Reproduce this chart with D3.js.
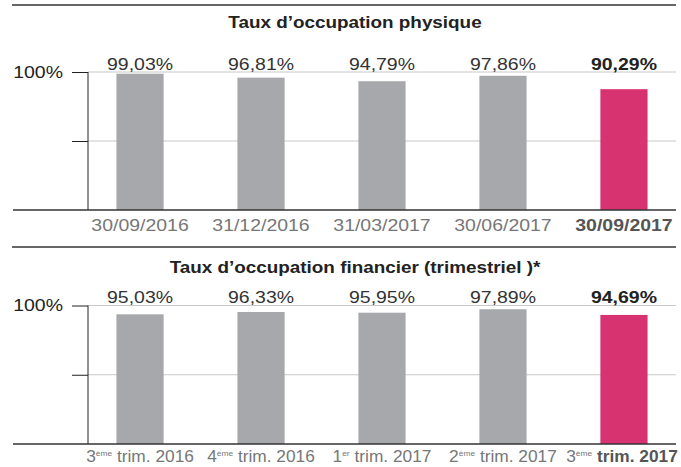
<!DOCTYPE html>
<html>
<head>
<meta charset="utf-8">
<script src="https://cdn.jsdelivr.net/npm/d3@7"></script>
<style>
	body { margin:0; background:#fff; }
	svg text { font-family:"Liberation Sans", Arial, Helvetica, sans-serif; }
</style>
</head>
<body>
<svg id="chart" width="681" height="467"></svg>
<script>
// data
var physTitle = 'Taux d\u2019occupation physique';
var physDates = ['30/09/2016', '31/12/2016', '31/03/2017', '30/06/2017', '30/09/2017'];
var physValues = [99.03, 96.81, 94.79, 97.86, 90.29];

var finTitle = 'Taux d\u2019occupation financier (trimestriel )*';
var finNum = ['3', '4', '1', '2', '3'];
var finSup = ['\u00e8me', '\u00e8me', 'er', '\u00e8me', '\u00e8me'];
var finRest = ['trim. 2016', 'trim. 2016', 'trim. 2017', 'trim. 2017', 'trim. 2017'];
var finValues = [95.03, 96.33, 95.95, 97.89, 94.69];

var yDomain = [22, 100];
var yTicks = [100, 61];
var yTickLabels = ['100%', ''];

var grey = '#a7a8ab', pink = '#d83371';
var fs = 16.5, wide = 1.18;   // the source type is set rather wide
var fr = d3.formatLocale({decimal:',', thousands:' ', grouping:[3], currency:['', '\u20ac']});
var fmt = fr.format('.2f');

var svg = d3.select('#chart');

// move x/y into a transform so the glyphs can be widened around their anchor
function stretch(sel, k) {
	k = k || wide;
	sel.each(function() {
		var t = d3.select(this);
		var x = +t.attr('x') || 0, y = +t.attr('y') || 0;
		t.attr('x', 0).attr('y', 0)
			.attr('transform', 'translate(' + x + ',' + y + ') scale(' + k + ',1)');
	});
}

function panel(opts) {
	var g = svg.append('g');
	var n = opts.values.length;
	var idx = d3.range(n);
	var x = d3.scaleBand().domain(idx).range([88, 676]).paddingInner(0.61).paddingOuter(0.235);
	var y = d3.scaleLinear().domain(yDomain).range([opts.bottom, opts.top]);

	// top rule + title
	g.append('line').attr('x1', 12).attr('x2', 676).attr('y1', opts.rule).attr('y2', opts.rule)
		.attr('stroke', '#333').attr('stroke-width', 1.5);
	g.append('text').attr('x', 355).attr('y', opts.titleY).attr('text-anchor', 'middle')
		.attr('font-size', 16).attr('font-weight', 'bold').attr('fill', '#222')
		.text(opts.title).call(stretch);

	// gridlines
	g.selectAll('line.grid').data(yTicks).enter().append('line').attr('class', 'grid')
		.attr('x1', 88).attr('x2', 676)
		.attr('y1', function(d) { return y(d); }).attr('y2', function(d) { return y(d); })
		.attr('stroke', '#c8c8c8').attr('stroke-width', 1);

	// bars
	g.selectAll('rect').data(opts.values).enter().append('rect')
		.attr('x', function(d, i) { return x(i); })
		.attr('width', x.bandwidth())
		.attr('y', function(d) { return y(d); })
		.attr('height', function(d) { return opts.bottom - y(d); })
		.attr('fill', function(d, i) { return i === n - 1 ? pink : grey; });

	// y axis
	var yAxis = d3.axisLeft(y).tickValues(yTicks).tickSize(16).tickPadding(9)
		.tickFormat(function(d, i) { return yTickLabels[i]; });
	var ya = g.append('g').attr('transform', 'translate(88,0)').call(yAxis);
	ya.select('.domain').remove();
	ya.selectAll('line').attr('stroke', '#222');
	ya.selectAll('text').attr('font-size', fs).attr('fill', '#222')
		.attr('font-family', '"Liberation Sans", Arial, sans-serif')
		.attr('dy', null).attr('y', 5).call(stretch);
	g.append('line').attr('x1', 88).attr('x2', 88).attr('y1', y(100)).attr('y2', opts.bottom)
		.attr('stroke', '#222').attr('stroke-width', 1);

	// baseline
	g.append('line').attr('x1', 13).attr('x2', 676).attr('y1', opts.bottom).attr('y2', opts.bottom)
		.attr('stroke', '#333').attr('stroke-width', 1.5);

	// value labels
	g.selectAll('text.val').data(opts.values).enter().append('text').attr('class', 'val')
		.attr('x', function(d, i) { return x(i) + x.bandwidth() / 2; })
		.attr('y', opts.valY).attr('text-anchor', 'middle').attr('font-size', fs)
		.attr('font-weight', function(d, i) { return i === n - 1 ? 'bold' : 'normal'; })
		.attr('fill', function(d, i) { return i === n - 1 ? '#222' : '#333'; })
		.text(function(d) { return fmt(d) + '%'; })
		.call(stretch);

	return {g:g, x:x, n:n};
}

var top1 = panel({title:physTitle, values:physValues, rule:5, titleY:28, valY:70, top:72, bottom:210});
top1.g.selectAll('text.cat').data(physDates).enter().append('text').attr('class', 'cat')
	.attr('x', function(d, i) { return top1.x(i) + top1.x.bandwidth() / 2; })
	.attr('y', 231).attr('text-anchor', 'middle').attr('font-size', fs)
	.attr('font-weight', function(d, i) { return i === top1.n - 1 ? 'bold' : 'normal'; })
	.attr('fill', function(d, i) { return i === top1.n - 1 ? '#555' : '#777'; })
	.text(function(d) { return d; })
	.call(stretch);

var bot = panel({title:finTitle, values:finValues, rule:247, titleY:273, valY:303, top:305.5, bottom:444});
var cats = bot.g.selectAll('text.cat').data(finNum).enter().append('text').attr('class', 'cat')
	.attr('x', function(d, i) { return bot.x(i) + bot.x.bandwidth() / 2 - (i === bot.n - 1 ? 2 : 0); })
	.attr('y', 462).attr('text-anchor', 'middle').attr('font-size', fs).attr('fill', '#777');
cats.append('tspan').text(function(d) { return d; });
cats.append('tspan').attr('font-size', 8).attr('dy', -6).text(function(d, i) { return finSup[i]; });
cats.append('tspan').attr('dy', 6)
	.attr('font-weight', function(d, i) { return i === bot.n - 1 ? 'bold' : 'normal'; })
	.attr('fill', function(d, i) { return i === bot.n - 1 ? '#555' : '#777'; })
	.text(function(d, i) { return ' ' + finRest[i]; });
cats.call(stretch, 1.05);
</script>
</body>
</html>
